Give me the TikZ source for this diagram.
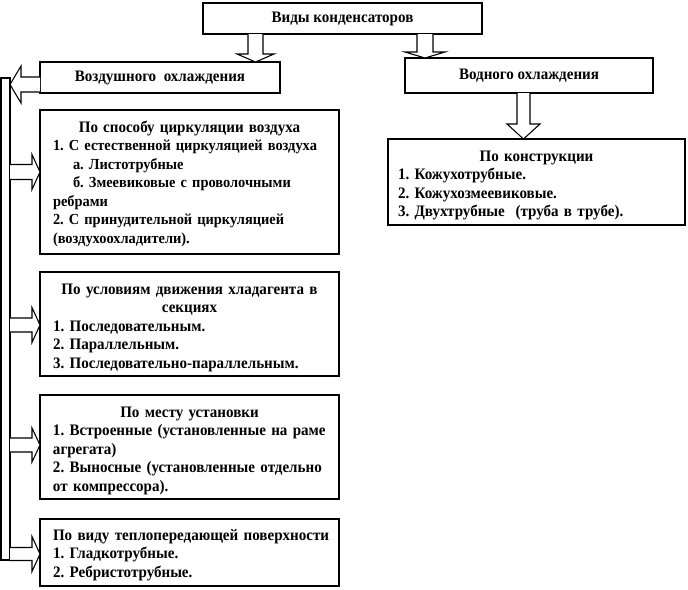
\documentclass[tikz,border=0pt]{standalone}
\usepackage{fontspec}
\setmainfont{Liberation Serif}[FakeStretch=0.94]
\usetikzlibrary{calc,shadows}
\frenchspacing
\tikzset{
  box/.style={draw=black, line width=0.9pt, fill=white, rectangle, inner sep=0pt, outer sep=0pt,
    font=\bfseries\fontsize{12pt}{13.875pt}\selectfont,
    drop shadow={shadow xshift=1.1pt, shadow yshift=-1.1pt, fill=black, opacity=1}},
  txt/.style={inner sep=0pt, outer sep=0pt, anchor=base west, align=left, text width=217.5pt,
    font=\bfseries\fontsize{12pt}{13.875pt}\selectfont},
  smalltxt/.style={txt, font=\bfseries\fontsize{11.5pt}{13.875pt}\selectfont},
  barrow/.style={draw=black, line width=0.8pt, fill=white, line join=miter},
}
% vertical block arrow: x, from node, to node, shaft half, head half, head length
\newcommand\arrdown[6]{%
  \path (#1,0 |- #2.south) coordinate (s) (#1,0 |- #3.north) coordinate (t);
  \draw[barrow] ($(s)+(-#4,0)$) -- ($(t)+(-#4,-#6)$) -- ($(t)+(-#5,-#6)$) -- (t)
    -- ($(t)+(#5,-#6)$) -- ($(t)+(#4,-#6)$) -- ($(s)+(#4,0)$);}
% horizontal block arrow pointing right
\newcommand\arrright[6]{%
  \path (0,#1 -| #2.east) coordinate (s) (0,#1 -| #3.west) coordinate (t);
  \draw[barrow] ($(s)+(0,-#4)$) -- ($(t)+(-#6,-#4)$) -- ($(t)+(-#6,-#5)$) -- (t)
    -- ($(t)+(-#6,#5)$) -- ($(t)+(-#6,#4)$) -- ($(s)+(0,#4)$);}
% horizontal block arrow pointing left
\newcommand\arrleft[6]{%
  \path (0,#1 -| #2.west) coordinate (s) (0,#1 -| #3.east) coordinate (t);
  \draw[barrow] ($(s)+(0,-#4)$) -- ($(t)+(#6,-#4)$) -- ($(t)+(#6,-#5)$) -- (t)
    -- ($(t)+(#6,#5)$) -- ($(t)+(#6,#4)$) -- ($(s)+(0,#4)$);}
\newcommand\ctitle[1]{\makebox[204.75pt]{#1}}
\begin{document}
\begin{tikzpicture}[x=0.75pt,y=-0.75pt]
\useasboundingbox (0,0) rectangle (688,589);

% boxes
\node[box, minimum width=209.25pt, minimum height=23.25pt] (top) at (342.5,18.5) {Виды конденсаторов};
\node[box, minimum width=180pt, minimum height=23.25pt] (air) at (160,77.5) {Воздушного\ \ охлаждения};
\node[box, minimum width=186pt, minimum height=26.25pt] (water) at (529,75.5) {Водного охлаждения};
\node[box, minimum width=222.75pt, minimum height=64.5pt] (konstr) at (536.5,182) {};
\node[box, minimum width=224.25pt, minimum height=108pt] (b1) at (189.5,182) {};
\node[box, minimum width=224.25pt, minimum height=78pt] (b2) at (189.5,324) {};
\node[box, minimum width=224.25pt, minimum height=78pt] (b3) at (189.5,447) {};
\node[box, minimum width=224.25pt, minimum height=50.25pt] (b4) at (189.5,552.5) {};
\node[box, minimum width=6.75pt, minimum height=361.5pt] (bar) at (5.5,319) {};

% texts
\node[txt] (tk) at (398,161) {%
\makebox[207.75pt]{По конструкции}\\
1. Кожухотрубные.\\
2. Кожухозмеевиковые.\\
3. Двухтрубные\ \ (труба в трубе).};

\node[smalltxt] (t1) at (53,132) {%
{\fontsize{12pt}{13.875pt}\selectfont\ctitle{По способу циркуляции воздуха}}\\
1. С естественной циркуляцией воздуха\\
\hspace*{15pt}а. Листотрубные\\
\hspace*{15pt}б. Змеевиковые с проволочными\\
ребрами\\
2. С принудительной циркуляцией\\
(воздухоохладители).};

\node[txt] (t2) at (53,294) {%
\ctitle{По условиям движения хладагента в}\\
\ctitle{секциях}\\
1. Последовательным.\\
2. Параллельным.\\
3. Последовательно-параллельным.};

\node[txt] (t3) at (53,417) {%
\ctitle{По месту установки}\\
1. Встроенные (установленные на раме\\
агрегата)\\
2. Выносные (установленные отдельно\\
от компрессора).};

\node[txt] (t4) at (53,540) {%
По виду теплопередающей поверхности\\
1. Гладкотрубные.\\
2. Ребристотрубные.};

% block arrows
\arrdown{255.5}{top}{air}{7.5}{18.5}{8}
\arrdown{425}{top}{water}{8}{20}{6}
\arrdown{523.5}{water}{konstr}{6.5}{16.5}{15}
\arrleft{84.5}{air}{bar}{7.5}{18.5}{11}
\arrright{172}{bar}{b1}{7.5}{17.5}{8}
\arrright{325}{bar}{b2}{7}{17.5}{8}
\arrright{445}{bar}{b3}{7}{17}{8}
\arrright{554}{bar}{b4}{6.5}{17.5}{8}
\end{tikzpicture}
\end{document}
